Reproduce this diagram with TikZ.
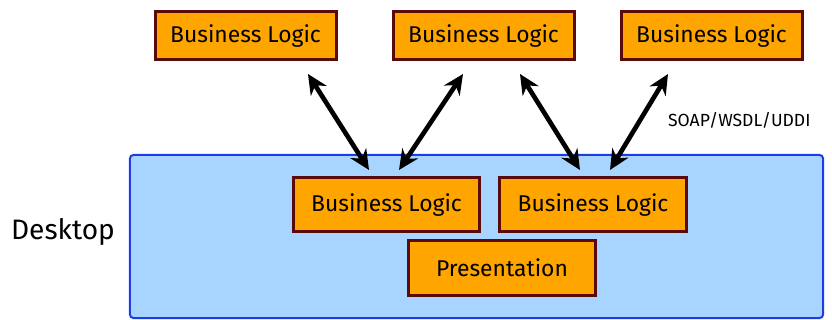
\documentclass[tikz,border=0pt]{standalone}
\usepackage{fontspec}
\setmainfont{Fira Sans}
\usetikzlibrary{arrows.meta}
\definecolor{boxorange}{HTML}{FFA500}
\definecolor{boxbrown}{HTML}{5A0A0A}
\definecolor{deskblue}{HTML}{A8D5FF}
\definecolor{deskline}{HTML}{1E3CE6}
\tikzset{
  logicbox/.style={draw=boxbrown, line width=0.9mm, fill=boxorange, inner sep=0pt,
    font=\fontsize{19.5}{22}\selectfont},
  link/.style={line width=1.4mm, {Stealth[length=6mm,width=5.6mm]}-{Stealth[length=6mm,width=5.6mm]}},
}
\begin{document}
\begin{tikzpicture}[x=0.3mm, y=-0.3mm]
\useasboundingbox (0,0) rectangle (832,320);
\def\topy{36}
\def\inny{205}

% desktop area
\node[draw=deskline, line width=0.6mm, fill=deskblue, rounded corners=1mm,
  minimum width=207.9mm, minimum height=48.9mm] (desk) at (476.5, 236.5) {};
\node[font=\fontsize{24}{28}\selectfont] (desklabel) at (63, 232) {Desktop};

% remote business logic
\node[logicbox, minimum width=54.3mm, minimum height=14.4mm] (remote1) at (245.5, \topy) {Business Logic};
\node[logicbox, minimum width=54.3mm, minimum height=14.4mm] (remote2) at (483.5, \topy) {Business Logic};
\node[logicbox, minimum width=54.3mm, minimum height=14.4mm] (remote3) at (711.5, \topy) {Business Logic};

% local business logic + presentation
\node[logicbox, minimum width=56mm, minimum height=16.2mm] (local1) at (386.5, \inny) {Business Logic};
\node[logicbox, minimum width=56mm, minimum height=16.2mm] (local2) at (593, \inny) {Business Logic};
\node[logicbox, minimum width=56mm, minimum height=16.2mm] (pres) at (502, 268) {Presentation};

\node[font=\fontsize{15}{17}\selectfont, anchor=west] (soap) at (664, 120) {SOAP/WSDL/UDDI};

% edges
\coordinate (r1) at (308, 74);  \coordinate (l1a) at (369, 170);
\coordinate (r2) at (463, 74);  \coordinate (l1b) at (399, 170);
\coordinate (r3) at (520, 74);  \coordinate (l2a) at (580, 170);
\coordinate (r4) at (668, 74);  \coordinate (l2b) at (610, 170);
\draw[link] (r1) -- (l1a); % remote1 to local1
\draw[link] (r2) -- (l1b); % remote2 to local1
\draw[link] (r3) -- (l2a); % remote2 to local2
\draw[link] (r4) -- (l2b); % remote3 to local2
\end{tikzpicture}
\end{document}
